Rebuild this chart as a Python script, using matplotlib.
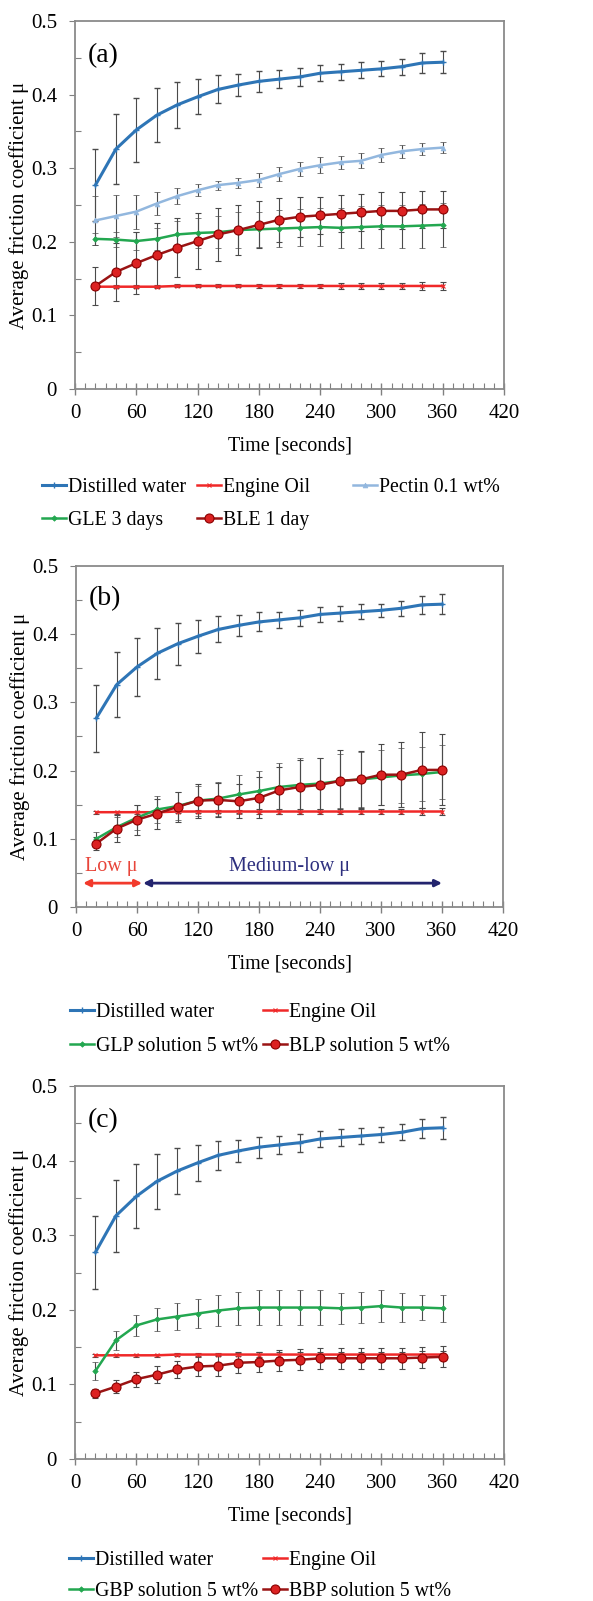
import matplotlib
matplotlib.use("Agg")
import matplotlib.pyplot as plt
from matplotlib.ticker import MultipleLocator

plt.rcParams["font.family"] = ["Liberation Serif", "DejaVu Serif"]
plt.rcParams["font.size"] = 15

# time points (s)
time_s = [20, 40, 60, 80, 100, 120, 140, 160, 180, 200, 220, 240, 260, 280, 300, 320, 340, 360]

# shared reference series
water = [0.277, 0.326, 0.352, 0.372, 0.386, 0.397, 0.407, 0.413, 0.418, 0.421, 0.424, 0.429,
         0.431, 0.433, 0.435, 0.438, 0.443, 0.444]
water_err = [0.049, 0.048, 0.043, 0.037, 0.031, 0.024, 0.019, 0.015, 0.014, 0.012, 0.012, 0.011,
             0.011, 0.011, 0.010, 0.011, 0.013, 0.015]
oil = [0.139, 0.139, 0.139, 0.139, 0.140, 0.140, 0.140, 0.140, 0.140, 0.140, 0.140, 0.140,
       0.140, 0.140, 0.140, 0.140, 0.140, 0.140]
oil_err = [0.002, 0.002, 0.002, 0.002, 0.002, 0.002, 0.002, 0.002, 0.003, 0.003, 0.003, 0.003,
           0.004, 0.004, 0.004, 0.004, 0.005, 0.005]

# panel (a)
pectin = [0.229, 0.235, 0.241, 0.252, 0.262, 0.270, 0.277, 0.280, 0.284, 0.292, 0.299, 0.304,
          0.308, 0.310, 0.318, 0.323, 0.326, 0.328]
pectin_err = [0.033, 0.029, 0.023, 0.016, 0.011, 0.008, 0.006, 0.007, 0.009, 0.009, 0.009, 0.011,
              0.009, 0.010, 0.010, 0.009, 0.008, 0.007]
gle = [0.204, 0.203, 0.201, 0.204, 0.210, 0.212, 0.213, 0.216, 0.217, 0.218, 0.219, 0.220,
       0.219, 0.220, 0.221, 0.221, 0.222, 0.223]
gle_err = [0.008, 0.010, 0.012, 0.015, 0.018, 0.020, 0.022, 0.024, 0.024, 0.025, 0.025, 0.026,
           0.027, 0.028, 0.029, 0.029, 0.030, 0.030]
ble = [0.140, 0.159, 0.171, 0.182, 0.192, 0.201, 0.210, 0.216, 0.223, 0.230, 0.234, 0.236,
       0.238, 0.240, 0.242, 0.242, 0.244, 0.244]
ble_err = [0.026, 0.040, 0.042, 0.043, 0.040, 0.038, 0.036, 0.034, 0.032, 0.030, 0.027, 0.025,
           0.025, 0.025, 0.025, 0.025, 0.025, 0.025]

# panel (b)
glp = [0.100, 0.117, 0.131, 0.143, 0.148, 0.156, 0.159, 0.165, 0.170, 0.176, 0.179, 0.181,
       0.185, 0.187, 0.190, 0.193, 0.195, 0.198]
glp_err = [0.010, 0.015, 0.018, 0.020, 0.020, 0.022, 0.025, 0.028, 0.030, 0.035, 0.040, 0.038,
           0.040, 0.040, 0.040, 0.040, 0.040, 0.040]
blp = [0.093, 0.115, 0.128, 0.137, 0.147, 0.156, 0.157, 0.155, 0.160, 0.171, 0.176, 0.179,
       0.185, 0.187, 0.194, 0.194, 0.201, 0.201]
blp_err = [0.010, 0.020, 0.022, 0.022, 0.022, 0.025, 0.025, 0.025, 0.030, 0.035, 0.040, 0.040,
           0.045, 0.042, 0.045, 0.048, 0.056, 0.052]

# panel (c)
gbp = [0.118, 0.159, 0.179, 0.187, 0.191, 0.195, 0.199, 0.202, 0.203, 0.203, 0.203, 0.203,
       0.202, 0.203, 0.205, 0.203, 0.203, 0.202]
gbp_err = [0.012, 0.013, 0.014, 0.016, 0.018, 0.019, 0.021, 0.022, 0.023, 0.023, 0.023, 0.023,
           0.021, 0.021, 0.021, 0.019, 0.017, 0.018]
bbp = [0.088, 0.097, 0.107, 0.113, 0.120, 0.124, 0.125, 0.129, 0.130, 0.132, 0.133, 0.135,
       0.135, 0.135, 0.135, 0.135, 0.136, 0.137]
bbp_err = [0.006, 0.009, 0.010, 0.011, 0.012, 0.013, 0.014, 0.014, 0.014, 0.014, 0.014, 0.014,
           0.014, 0.014, 0.014, 0.014, 0.014, 0.014]

x_ticks = [0, 60, 120, 180, 240, 300, 360, 420]
y_ticks = [0, 0.1, 0.2, 0.3, 0.4, 0.5]
y_ticklabels = ["0", "0.1", "0.2", "0.3", "0.4", "0.5"]

# line styles per series kind
STYLES = {
    "water": dict(color="#2e75b6", lw=2.2, marker="+", ms=5, mew=1.0),
    "oil": dict(color="#f02828", lw=1.8, marker="x", ms=3.5, mew=0.8),
    "pectin": dict(color="#92b7de", lw=1.8, marker="^", ms=3.5, mew=0.5),
    "green": dict(color="#23a750", lw=1.8, marker="D", ms=2.8, mew=0.5),
    "red": dict(color="#9a1414", lw=1.8, marker="o", ms=6.5, mfc="#dc2222", mec="#8b0000", mew=0.8),
}

W, H = 593, 1601
fig = plt.figure(figsize=(W / 100, H / 100), dpi=100)


def make_axes(left, top, right, bottom):
    return fig.add_axes([left / W, 1 - bottom / H, (right - left) / W, (bottom - top) / H])


def style_axes(ax, tag):
    ax.set_xlim(0, 420)
    ax.set_ylim(0, 0.5)
    ax.set_xticks(x_ticks)
    ax.set_yticks(y_ticks)
    ax.set_yticklabels(y_ticklabels)
    ax.xaxis.set_minor_locator(MultipleLocator(10))
    ax.yaxis.set_minor_locator(MultipleLocator(0.05))
    ax.tick_params(axis="x", which="major", direction="inout", length=9, width=1.0,
                   color="#808080", pad=6)
    ax.tick_params(axis="x", which="minor", direction="in", length=4, width=0.8, color="#808080")
    ax.tick_params(axis="y", which="major", direction="out", length=4, width=0.8,
                   color="#808080", pad=9)
    ax.tick_params(axis="y", which="minor", direction="in", length=4, width=0.8, color="#808080")
    for sp in ax.spines.values():
        sp.set_color("#8a8a8a")
        sp.set_linewidth(1.3)
    ax.set_xlabel("Time [seconds]", labelpad=10, fontsize=14.5)
    ax.set_ylabel("Average friction coefficient μ", labelpad=1)
    ax.text(0.029, 0.94, tag, transform=ax.transAxes, fontsize=20, va="top", ha="left")


def plot_series(ax, y, err, kind):
    cont = ax.errorbar(time_s, y, yerr=err, ecolor="#4a4a4a", elinewidth=0.8, capsize=2.5,
                       capthick=0.8, **STYLES[kind])
    return cont.lines[0]


def column_legends(columns, xs, y_top, spacing):
    for handles_labels, x in zip(columns, xs):
        hs = [h for h, _ in handles_labels]
        ls = [l for _, l in handles_labels]
        fig.legend(hs, ls, loc="upper left", bbox_to_anchor=(x / W, 1 - y_top / H),
                   frameon=False, borderpad=0, borderaxespad=0, handlelength=1.2,
                   handletextpad=0.1, labelspacing=spacing, fontsize=14.3)


# ---- panel (a)
ax_a = make_axes(75, 21, 504, 389)
h_w = plot_series(ax_a, water, water_err, "water")
h_o = plot_series(ax_a, oil, oil_err, "oil")
h_p = plot_series(ax_a, pectin, pectin_err, "pectin")
h_g = plot_series(ax_a, gle, gle_err, "green")
h_b = plot_series(ax_a, ble, ble_err, "red")
style_axes(ax_a, "(a)")
column_legends([[(h_w, "Distilled water"), (h_g, "GLE 3 days")],
                [(h_o, "Engine Oil"), (h_b, "BLE 1 day")],
                [(h_p, "Pectin 0.1 wt%")]],
               [42, 197, 353], 478, 0.72)

# ---- panel (b)
ax_b = make_axes(76, 566, 503, 907)
h_w = plot_series(ax_b, water, water_err, "water")
h_o = plot_series(ax_b, oil, oil_err, "oil")
h_g = plot_series(ax_b, glp, glp_err, "green")
h_b = plot_series(ax_b, blp, blp_err, "red")
style_axes(ax_b, "(b)")
ax_b.annotate("", xy=(7, 0.035), xytext=(65, 0.035),
              arrowprops=dict(arrowstyle="<|-|>", color="#f23a2c", lw=2, mutation_scale=10,
                              shrinkA=0, shrinkB=0))
ax_b.annotate("", xy=(66, 0.035), xytext=(360, 0.035),
              arrowprops=dict(arrowstyle="<|-|>", color="#23246e", lw=2, mutation_scale=10,
                              shrinkA=0, shrinkB=0))
ax_b.text(35, 0.059, "Low μ", color="#e8453a", ha="center", va="center", fontsize=14.5)
ax_b.text(210, 0.059, "Medium-low μ", color="#2d2f7e", ha="center", va="center", fontsize=14.5)
column_legends([[(h_w, "Distilled water"), (h_g, "GLP solution 5 wt%")],
                [(h_o, "Engine Oil"), (h_b, "BLP solution 5 wt%")]],
               [70, 263], 1003, 0.76)

# ---- panel (c)
ax_c = make_axes(75, 1086, 504, 1459)
h_w = plot_series(ax_c, water, water_err, "water")
h_o = plot_series(ax_c, oil, oil_err, "oil")
h_g = plot_series(ax_c, gbp, gbp_err, "green")
h_b = plot_series(ax_c, bbp, bbp_err, "red")
style_axes(ax_c, "(c)")
column_legends([[(h_w, "Distilled water"), (h_g, "GBP solution 5 wt%")],
                [(h_o, "Engine Oil"), (h_b, "BBP solution 5 wt%")]],
               [69, 263], 1551, 0.6)

fig.savefig("out.png", dpi=100)
